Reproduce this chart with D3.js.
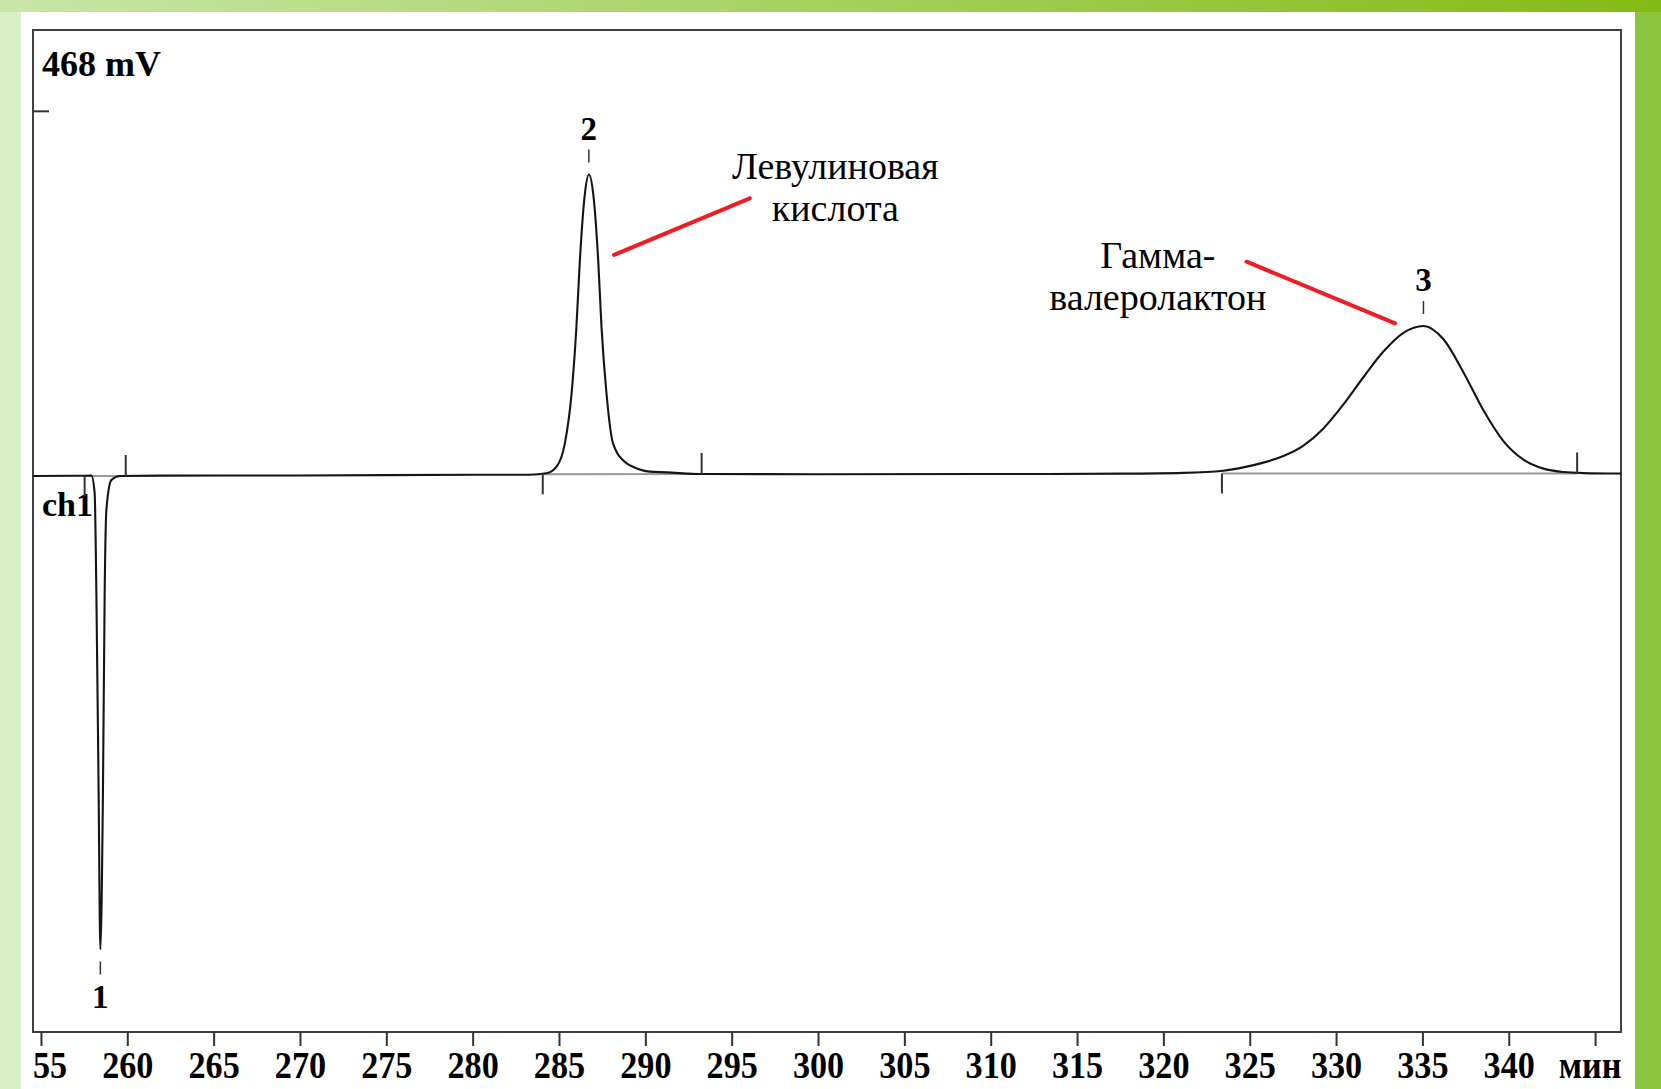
<!DOCTYPE html>
<html>
<head>
<meta charset="utf-8">
<script src="https://cdn.jsdelivr.net/npm/d3@7"></script>
<style>
  html, body { margin: 0; padding: 0; background: #fff; }
  svg { display: block; }
  text { font-family: "Liberation Serif", "Times New Roman", serif; fill: #000; }
</style>
</head>
<body>
<svg id="chart" width="1661" height="1089"></svg>
<script>
// Detector trace, channel 1: retention time (min) and signal (mV)
const traceTime = [254.54, 257.0, 257.92, 258.11, 258.21, 258.34, 258.44, 258.59, 258.69, 258.79, 259.08, 259.56,
  262.0, 270.0, 280.0, 283.3, 284.28, 284.86, 285.34, 285.73, 286.01, 286.21, 286.50, 286.73, 286.98, 287.27,
  287.46, 287.75, 288.13, 288.91, 289.28, 290.26, 291.23, 293.27, 300.0, 310.0, 317.69, 321.16, 323.47, 324.63,
  325.79, 326.95, 328.11, 329.27, 330.43, 331.58, 332.74, 333.90, 335.06, 336.22, 337.38, 338.54, 339.69,
  340.85, 342.01, 343.17, 344.33, 346.5];
const traceMv = [-1.0, -0.8, -0.7, -19, -124, -334, -499, -334, -124, -36.5, -5.3, -1.0,
  -0.7, -0.5, 0.2, 0.3, 1.8, 8.7, 33.3, 85.9, 156, 226, 296, 316, 296, 226,
  156, 86, 33.3, 12.3, 8.7, 3.5, 2.8, 1.0, 0.8, 1.0, 1.4, 2.2, 4.5, 8,
  13, 20, 31, 49, 74.3, 102.8, 129.8, 149.5, 156.7, 142.7, 107.8, 67.8, 35.7,
  16.2, 6.7, 3.1, 2.0, 1.5];

// Integrated peaks
const peakIds = ["1", "2", "3"];
const peakApexTime = [258.44, 286.73, 335.06];
const peakApexMv = [-499, 316, 156.7];
const peakStartTime = [257.53, 284.06, 323.39];
const peakEndTime = [259.91, 293.26, 343.96];
const peakStartMv = [-1.05, 0.7, 1.6];
const peakEndMv = [-1.05, 1.0, 1.6];

// Axes
const timeDomain = [254.54, 346.5];
const mvDomain = [-585.8, 468];
const timeTicks = [255, 260, 265, 270, 275, 280, 285, 290, 295, 300, 305, 310, 315, 320, 325, 330, 335, 340, 345];
const timeTickLabels = ["255", "260", "265", "270", "275", "280", "285", "290", "295", "300", "305", "310", "315", "320", "325", "330", "335", "340", "мин"];
const mvTicks = [383];
const scaleLabel = "468 mV";
const channelLabel = "ch1";

// Compound annotations: text lines, text anchor and leader line ends (time, mV)
const compoundLines = [["Левулиновая", "кислота"], ["Гамма-", "валеролактон"]];
const compoundTextTime = [301.0, 319.68];
const compoundTextMv = [311, 217.4];
const leaderFromTime = [296.05, 324.82];
const leaderFromMv = [291.0, 224.3];
const leaderToTime = [288.19, 333.42];
const leaderToMv = [231.4, 159.5];

const W = 1661, H = 1089;
const plot = { left: 33, top: 30, right: 1621, bottom: 1032 };
const labelSqueeze = 0.9;

const svg = d3.select("#chart");

// Green page background and white card
const defs = svg.append("defs");
const bg = defs.append("linearGradient").attr("id", "bgGrad").attr("x1", "0").attr("x2", "1").attr("y1", "0").attr("y2", "0");
bg.append("stop").attr("offset", "0%").attr("stop-color", "#d9efc6");
bg.append("stop").attr("offset", "50%").attr("stop-color", "#b3da83");
bg.append("stop").attr("offset", "100%").attr("stop-color", "#8cc43c");
const bgTop = defs.append("linearGradient").attr("id", "bgTop").attr("x1", "0").attr("x2", "1").attr("y1", "0").attr("y2", "0");
bgTop.append("stop").attr("offset", "0%").attr("stop-color", "#c8e6a8");
bgTop.append("stop").attr("offset", "100%").attr("stop-color", "#84ba16");
svg.append("rect").attr("width", W).attr("height", H).attr("fill", "url(#bgGrad)");
svg.append("rect").attr("width", W).attr("height", 12).attr("fill", "url(#bgTop)");
svg.append("rect").attr("x", 21).attr("y", 12).attr("width", 1614).attr("height", H - 12).attr("fill", "#ffffff");

defs.append("clipPath").attr("id", "plotClip")
  .append("rect").attr("x", plot.left).attr("y", 0).attr("width", plot.right - plot.left + 30).attr("height", H);

const x = d3.scaleLinear().domain(timeDomain).range([plot.left, plot.right]);
const y = d3.scaleLinear().domain(mvDomain).range([plot.bottom, plot.top]);

// Frame
svg.append("rect")
  .attr("x", plot.left).attr("y", plot.top)
  .attr("width", plot.right - plot.left).attr("height", plot.bottom - plot.top)
  .attr("fill", "none").attr("stroke", "#404040").attr("stroke-width", 2);

// Time axis
const xAxis = d3.axisBottom(x).tickValues(timeTicks).tickSize(14).tickPadding(6)
  .tickFormat((d, i) => timeTickLabels[i]);
const gx = svg.append("g").attr("transform", `translate(0,${plot.bottom})`)
  .attr("clip-path", "url(#plotClip)").call(xAxis);
gx.select(".domain").remove();
gx.selectAll(".tick line").attr("stroke", "#333").attr("stroke-width", 2);
gx.selectAll(".tick text")
  .attr("fill", "#000")
  .style("font-family", "'Liberation Serif', serif")
  .style("font-weight", "bold")
  .style("font-size", "38px")
  .attr("dy", null).attr("y", 46)
  .attr("transform", `scale(${labelSqueeze},1)`);
const lastTick = timeTicks[timeTicks.length - 1];
gx.selectAll(".tick").filter(d => d === lastTick).select("text")
  .attr("text-anchor", "end").attr("x", (x.range()[1] - x(lastTick)) / labelSqueeze);

// Signal axis tick
const yAxis = d3.axisRight(y).tickValues(mvTicks).tickSize(16).tickFormat("");
const gy = svg.append("g").attr("transform", `translate(${plot.left},0)`).call(yAxis);
gy.select(".domain").remove();
gy.selectAll(".tick line").attr("stroke", "#333").attr("stroke-width", 2);

svg.append("text").attr("x", 42).attr("y", 76)
  .style("font-weight", "bold").style("font-size", "36px").text(scaleLabel);
svg.append("text").attr("x", 42).attr("y", 516)
  .style("font-weight", "bold").style("font-size", "34px").text(channelLabel);

// Integration baselines
const peaks = peakIds.map((id, i) => ({
  id, t: peakApexTime[i], v: peakApexMv[i],
  t0: peakStartTime[i], t1: peakEndTime[i], v0: peakStartMv[i], v1: peakEndMv[i]
}));
svg.append("g").selectAll("line").data(peaks).join("line")
  .attr("x1", d => x(d.t0)).attr("y1", d => y(d.v0))
  .attr("x2", d => x(d.t1)).attr("y2", d => y(d.v1))
  .attr("stroke", "#9a9a9a").attr("stroke-width", 2);

// Trace
const points = traceTime.map((t, i) => [t, traceMv[i]]);
const line = d3.line().x(d => x(d[0])).y(d => y(d[1])).curve(d3.curveMonotoneX);
svg.append("path").datum(points)
  .attr("d", line)
  .attr("fill", "none").attr("stroke", "#151515").attr("stroke-width", 2.1)
  .attr("stroke-linejoin", "round");

// Peak start (down) and end (up) markers
const marks = svg.append("g").attr("stroke", "#333").attr("stroke-width", 2);
marks.selectAll(".start").data(peaks).join("line").attr("class", "start")
  .attr("x1", d => x(d.t0)).attr("x2", d => x(d.t0))
  .attr("y1", d => y(d.v0)).attr("y2", d => y(d.v0) + 20);
marks.selectAll(".end").data(peaks).join("line").attr("class", "end")
  .attr("x1", d => x(d.t1)).attr("x2", d => x(d.t1))
  .attr("y1", d => y(d.v1)).attr("y2", d => y(d.v1) - 21);

// Peak numbers with short dash above/below apex
peaks.forEach(p => {
  const dir = p.v < 0 ? 1 : -1;
  const ax = x(p.t), ay = y(p.v);
  svg.append("line")
    .attr("x1", ax).attr("x2", ax)
    .attr("y1", ay + dir * 12).attr("y2", ay + dir * 25)
    .attr("stroke", "#333").attr("stroke-width", 1.5);
  svg.append("text")
    .attr("x", ax).attr("y", dir > 0 ? ay + dir * 35 + 24 : ay + dir * 35)
    .attr("text-anchor", "middle")
    .style("font-weight", "bold").style("font-size", "33px")
    .text(p.id);
});

// Compound names with red leader lines
compoundLines.forEach((lines, i) => {
  svg.append("line")
    .attr("x1", x(leaderFromTime[i])).attr("y1", y(leaderFromMv[i]))
    .attr("x2", x(leaderToTime[i])).attr("y2", y(leaderToMv[i]))
    .attr("stroke", "#ee1c24").attr("stroke-width", 4).attr("stroke-linecap", "round");
  const t = svg.append("text")
    .attr("x", x(compoundTextTime[i])).attr("y", y(compoundTextMv[i]))
    .attr("text-anchor", "middle")
    .style("font-size", "38px");
  lines.forEach((s, k) => {
    t.append("tspan").attr("x", x(compoundTextTime[i])).attr("dy", k === 0 ? 0 : 42).text(s);
  });
});
</script>
</body>
</html>
